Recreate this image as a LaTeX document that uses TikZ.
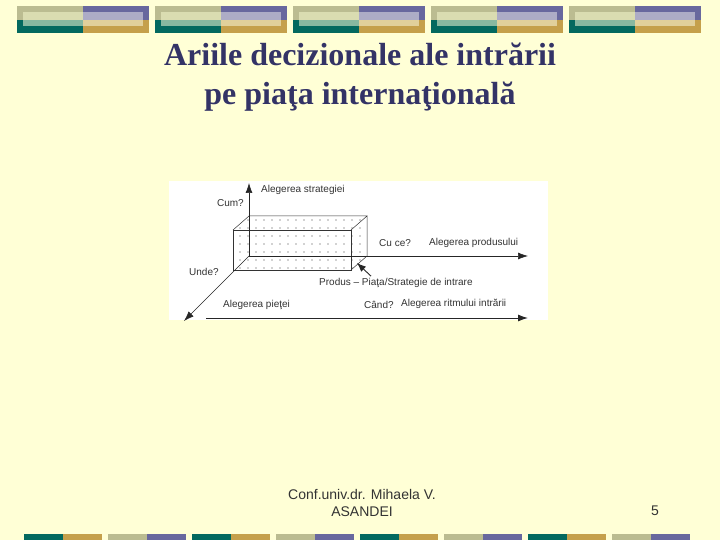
\documentclass[tikz,border=0pt]{standalone}
\usepackage{fontspec}
\setmainfont{Liberation Serif}
\setsansfont{Liberation Sans}
\usetikzlibrary{arrows.meta,patterns.meta}
\definecolor{slidebg}{HTML}{FFFFD6}
\definecolor{khaki}{HTML}{BBBC91}
\definecolor{deepteal}{HTML}{03695F}
\definecolor{violet}{HTML}{68689E}
\definecolor{gold}{HTML}{C5A04B}
\definecolor{palekhaki}{HTML}{DADCB1}
\definecolor{paleteal}{HTML}{88B8A0}
\definecolor{lavender}{HTML}{ADACC6}
\definecolor{palegold}{HTML}{E1D09B}
\definecolor{titleblue}{HTML}{333366}
\begin{document}
\begin{tikzpicture}[x=1pt,y=-1pt,
  lbl/.style={inner sep=0pt,anchor=west,text=black!80,font=\sffamily\fontsize{10}{12}\selectfont},
  axis/.style={-{Latex[length=10pt,width=7pt]},black!85,line width=0.6pt},
  dotface/.style={pattern={Dots[distance=8pt,radius=0.6pt]},pattern color=black!75}]
\fill[slidebg](0,0)rectangle(720,540);
\useasboundingbox(0,0)rectangle(720,540);
%
\foreach \bx in {17,155,293,431,569}{
  \fill[khaki](\bx,6)rectangle++(66,14);
  \fill[deepteal](\bx,20)rectangle++(66,13);
  \fill[violet](\bx+66,6)rectangle++(66,14);
  \fill[gold](\bx+66,20)rectangle++(66,13);
  \fill[palekhaki](\bx+6,12)rectangle++(60,8);
  \fill[paleteal](\bx+6,20)rectangle++(60,6);
  \fill[lavender](\bx+66,12)rectangle++(60,8);
  \fill[palegold](\bx+66,20)rectangle++(60,6);
}
\foreach \gx/\ca/\cb in {24/deepteal/gold,108/khaki/violet,192/deepteal/gold,276/khaki/violet,
  360/deepteal/gold,444/khaki/violet,528/deepteal/gold,612/khaki/violet}{
  \fill[\ca](\gx,534)rectangle++(39,6);
  \fill[\cb](\gx+39,534)rectangle++(39,6);
}
%
\node[align=center,text=titleblue,font=\bfseries\fontsize{32}{39}\selectfont](title)at(360,77)
  {Ariile decizionale ale intrării\\pe piaţa internaţională};
%
\fill[white](169,181)rectangle(548,320);
\coordinate(O)at(249,256);
\coordinate(strat)at(249,183);
\coordinate(prod)at(528,256);
\coordinate(piata)at(184,321);
\coordinate(t0)at(206,318);
\coordinate(t1)at(528,318);
%
\fill[dotface](233,230)rectangle(351,270);
\fill[dotface](233,230)--(249,216)--(367,216)--(351,230)--cycle;
\fill[dotface](351,230)--(367,216)--(367,256)--(351,270)--cycle;
\draw[black!80,line width=0.5pt](233,230)rectangle(351,270);
\draw[black!80,line width=0.5pt](233,230)--(249,216)--(367,216)--(351,230)
  (367,216)--(367,256)--(351,270);
%
\draw[axis](O)--(strat);
\draw[axis](O)--(prod);
\draw[axis](O)--(piata);
\draw[axis,line width=1pt](t0)--(t1);
%
\node[lbl](lblStrat)at(261,190){Alegerea strategiei};
\node[lbl,anchor=east](lblCum)at(244,203){Cum?};
\node[lbl](lblCuCe)at(379,243){Cu ce?};
\node[lbl](lblProd)at(429,243){Alegerea produsului};
\node[lbl](lblUnde)at(189,272){Unde?};
\node[lbl](lblProdus)at(319,283){Produs -- Piaţa/Strategie de intrare};
\node[lbl](lblPiata)at(223,305){Alegerea pieţei};
\node[lbl](lblCand)at(364,305){Când?};
\node[lbl](lblRitm)at(401,304){Alegerea ritmului intrării};
\coordinate(corner)at(357,263);
\draw[-{Latex[length=9pt,width=7pt]},black!85,line width=0.9pt](lblProdus.north west)++(52,-2)--(corner);
%
\node[align=center,text=black!80,font=\sffamily\fontsize{14}{17}\selectfont](author)at(362,503)
  {Conf.univ.dr. Mihaela V.\\ASANDEI};
\node[text=black!80,font=\sffamily\fontsize{14}{17}\selectfont](page)at(655,511){5};
\end{tikzpicture}
\end{document}
